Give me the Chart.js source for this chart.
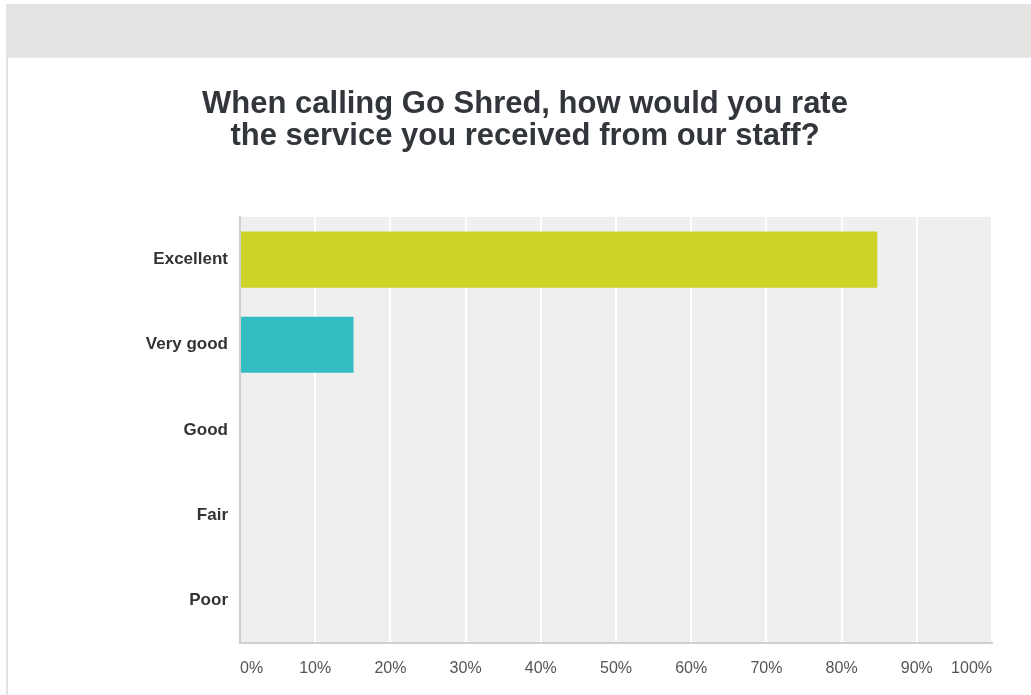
<!DOCTYPE html>
<html>
<head>
<meta charset="utf-8">
<script src="https://cdn.jsdelivr.net/npm/chart.js@4/dist/chart.umd.min.js"></script>
<style>
  html, body { margin: 0; padding: 0; background: #ffffff; overflow: hidden; }
  #band { position: absolute; left: 6px; top: 4px; width: 1025px; height: 53px; background: #e4e4e2; border-bottom: 1px solid #ececea; }
  #edge { position: absolute; left: 6px; top: 57px; width: 2px; height: 638px; background: #e2e2e2; }
  #wrap { position: absolute; left: 0; top: 0; width: 1031px; height: 695px; }
</style>
</head>
<body>
<div id="band"></div>
<div id="edge"></div>
<div id="wrap"><canvas id="c"></canvas></div>
<script>
const titleLines = ["When calling Go Shred, how would you rate", "the service you received from our staff?"];
const categories = ["Excellent", "Very good", "Good", "Fair", "Poor"];
const percentages = [84.75, 15.1, 0, 0, 0];
const xTickValues = [0, 10, 20, 30, 40, 50, 60, 70, 80, 90, 100];
const barColors = ["#cdd427", "#35bec1", "#f05b4f", "#7d6fa8", "#f7a136"];

const plotBackground = {
  id: 'plotBackground',
  beforeDraw(chart) {
    const {ctx, chartArea: a} = chart;
    ctx.save();
    ctx.fillStyle = '#efefef';
    ctx.fillRect(a.left, a.top, a.right - a.left, a.bottom - a.top);
    ctx.restore();
  }
};

new Chart(document.getElementById('c'), {
  type: 'bar',
  data: {
    labels: categories,
    datasets: [{
      data: percentages,
      backgroundColor: barColors,
      borderWidth: 0,
      barPercentage: 0.66,
      categoryPercentage: 1.0
    }]
  },
  options: {
    indexAxis: 'y',
    responsive: true,
    maintainAspectRatio: false,
    animation: false,
    layout: { padding: { left: 58, right: 39, top: 0, bottom: 1 } },
    plugins: {
      legend: { display: false },
      tooltip: { enabled: false },
      title: {
        display: true,
        text: titleLines,
        color: '#32363a',
        font: { family: "'Liberation Sans', Arial, sans-serif", size: 31, weight: 'bold', lineHeight: 32 / 31 },
        padding: { top: 88, bottom: 65 }
      }
    },
    scales: {
      x: {
        min: 0,
        max: 100,
        afterBuildTicks(scale) { scale.ticks = xTickValues.map(v => ({ value: v })); },
        grid: { color: '#ffffff', lineWidth: 2, drawTicks: false },
        border: { display: true, color: '#cfcfcf', width: 2 },
        ticks: {
          align: 'inner',
          padding: 16,
          color: '#555555',
          font: { family: "'Liberation Sans', Arial, sans-serif", size: 16 },
          callback: v => v + '%'
        }
      },
      y: {
        afterFit(scale) { scale.width = 182; },
        grid: { display: false, drawTicks: false },
        border: { display: true, color: '#cfcfcf', width: 2 },
        ticks: {
          padding: 12,
          color: '#333333',
          font: { family: "'Liberation Sans', Arial, sans-serif", size: 17, weight: 'bold' }
        }
      }
    }
  },
  plugins: [plotBackground]
});
</script>
</body>
</html>
